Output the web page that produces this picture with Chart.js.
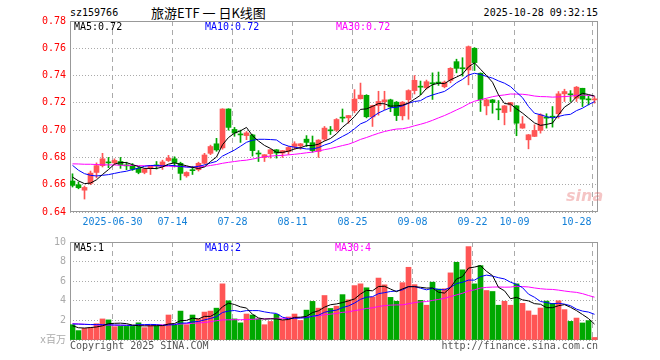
<!DOCTYPE html>
<html lang="zh-CN">
<head>
  <meta charset="UTF-8">
  <title>旅游ETF 一 日K线图</title>
  <script src="https://cdn.jsdelivr.net/npm/chart.js"></script>
  <style>
    body { margin: 0; width: 660px; height: 360px; background: #fff; position: relative; overflow: hidden; }
    canvas { position: absolute; left: 0; }
    .t { position: absolute; font: 10px 'DejaVu Sans Mono', monospace; line-height: 12px; white-space: pre; color: #000; }
  </style>
</head>
<body>
  <div class="t" style="left:70px;top:7px">sz159766</div>
  <div class="t" style="left:151px;top:4px;font:13px 'Noto Sans CJK SC',sans-serif;line-height:17px">旅游ETF 一 日K线图</div>
  <div class="t" style="right:62px;top:7px">2025-10-28 09:32:15</div>
  <canvas id="kline" width="660" height="232" style="top:0"></canvas>
  <canvas id="vol" width="660" height="120" style="top:232px"></canvas>
  <div class="t" style="left:566px;top:186px;font:italic bold 16px 'DejaVu Sans',sans-serif;color:rgba(225,90,90,0.35)">sina</div>
  <div class="t" style="left:70px;top:340px;color:#555">Copyright 2025 SINA.COM</div>
  <div class="t" style="right:62px;top:340px;color:#555">http://finance.sina.com.cn</div>

<script>
// trading days shown
const dates = [
  ...'19 20 23 24 25 26 27 30'.split(' ').map(d => '2025-06-' + d),
  ...'01 02 03 04 07 08 09 10 11 14 15 16 17 18 21 22 23 24 25 28 29 30 31'.split(' ').map(d => '2025-07-' + d),
  ...'01 04 05 06 07 08 11 12 13 14 15 18 19 20 21 22 25 26 27 28 29'.split(' ').map(d => '2025-08-' + d),
  ...'01 02 03 04 05 08 09 10 11 12 15 16 17 18 19 22 23 24 25 26 29 30'.split(' ').map(d => '2025-09-' + d),
  ...'09 10 13 14 15 16 17 20 21 22 23 24 27 28'.split(' ').map(d => '2025-10-' + d)
];
const tickDates = ['2025-06-30','2025-07-14','2025-07-28','2025-08-11','2025-08-25','2025-09-08','2025-09-22','2025-10-09','2025-10-28'];

const open = [
  0.6627,0.6600,0.6560,0.6610,0.6690,0.6740,0.6765,0.6760,0.6770,0.6745,
  0.6737,0.6720,0.6690,0.6720,0.6742,0.6735,0.6777,0.6790,0.6757,0.6665,
  0.6707,0.6710,0.6757,0.6830,0.6900,0.6870,0.7155,0.7005,0.6968,0.6960,
  0.6965,0.6830,0.6800,0.6827,0.6856,0.6832,0.6843,0.6880,0.6885,0.6934,
  0.6908,0.6844,0.6934,0.7000,0.7000,0.7090,0.7090,0.7142,0.7230,0.7255,
  0.7097,0.7180,0.7208,0.7222,0.7205,0.7105,0.7223,0.7290,0.7320,0.7310,
  0.7345,0.7350,0.7318,0.7364,0.7502,0.7455,0.7441,0.7600,0.7417,0.7178,
  0.7222,0.7152,0.7129,0.7185,0.7178,0.7015,0.6929,0.6954,0.6998,0.7092,
  0.7099,0.7120,0.7266,0.7263,0.7234,0.7307,0.7225,0.7222
];
const high = [
  0.6680,0.6620,0.6590,0.6700,0.6760,0.6830,0.6800,0.6790,0.6800,0.6765,
  0.6755,0.6730,0.6720,0.6742,0.6770,0.6780,0.6815,0.6805,0.6765,0.6695,
  0.6735,0.6765,0.6830,0.6890,0.6940,0.7157,0.7157,0.7020,0.7000,0.6990,
  0.6970,0.6850,0.6820,0.6860,0.6858,0.6852,0.6880,0.6915,0.6902,0.6960,
  0.6957,0.6930,0.7027,0.7027,0.7085,0.7155,0.7108,0.7297,0.7345,0.7260,
  0.7183,0.7285,0.7285,0.7227,0.7210,0.7210,0.7296,0.7400,0.7360,0.7367,
  0.7420,0.7426,0.7360,0.7458,0.7520,0.7531,0.7617,0.7605,0.7420,0.7227,
  0.7225,0.7217,0.7180,0.7204,0.7180,0.7100,0.6968,0.7039,0.7120,0.7120,
  0.7173,0.7283,0.7300,0.7290,0.7320,0.7307,0.7251,0.7246
];
const low = [
  0.6583,0.6570,0.6495,0.6600,0.6650,0.6730,0.6725,0.6746,0.6720,0.6710,
  0.6705,0.6680,0.6680,0.6675,0.6715,0.6712,0.6770,0.6730,0.6635,0.6655,
  0.6675,0.6700,0.6750,0.6820,0.6845,0.6860,0.7000,0.6955,0.6910,0.6930,
  0.6810,0.6770,0.6770,0.6795,0.6795,0.6800,0.6822,0.6860,0.6860,0.6880,
  0.6838,0.6800,0.6924,0.6968,0.6990,0.7060,0.7050,0.7127,0.7228,0.7090,
  0.7027,0.7110,0.7150,0.7135,0.7070,0.7075,0.7080,0.7265,0.7260,0.7300,
  0.7225,0.7328,0.7310,0.7347,0.7420,0.7396,0.7332,0.7437,0.7137,0.7112,
  0.7124,0.7076,0.7039,0.7137,0.6959,0.7013,0.6863,0.6952,0.6978,0.7015,
  0.7022,0.7088,0.7210,0.7210,0.7210,0.7173,0.7185,0.7198
];
const close = [
  0.6595,0.6578,0.6580,0.6685,0.6740,0.6790,0.6760,0.6778,0.6745,0.6738,
  0.6713,0.6690,0.6715,0.6740,0.6738,0.6767,0.6795,0.6762,0.6683,0.6690,
  0.6703,0.6757,0.6818,0.6880,0.6855,0.7155,0.7020,0.6980,0.6965,0.6980,
  0.6850,0.6825,0.6820,0.6856,0.6832,0.6850,0.6873,0.6900,0.6900,0.6910,
  0.6850,0.6927,0.7015,0.6995,0.7078,0.7088,0.7107,0.7228,0.7257,0.7098,
  0.7180,0.7210,0.7222,0.7170,0.7107,0.7205,0.7290,0.7365,0.7315,0.7355,
  0.7340,0.7345,0.7352,0.7453,0.7453,0.7450,0.7612,0.7495,0.7222,0.7222,
  0.7202,0.7149,0.7178,0.7202,0.7051,0.7046,0.6966,0.6998,0.7112,0.7088,
  0.7095,0.7266,0.7283,0.7259,0.7315,0.7227,0.7222,0.7227
];
const ma5 = [
  0.6656,0.6628,0.6608,0.6612,0.6636,0.6675,0.6711,0.6751,0.6763,0.6762,
  0.6747,0.6733,0.6720,0.6719,0.6719,0.6730,0.6751,0.6760,0.6749,0.6739,
  0.6727,0.6719,0.6730,0.6770,0.6803,0.6893,0.6946,0.6978,0.6995,0.7020,
  0.6959,0.6920,0.6888,0.6866,0.6837,0.6837,0.6846,0.6862,0.6871,0.6887,
  0.6887,0.6897,0.6920,0.6939,0.6973,0.7021,0.7057,0.7099,0.7152,0.7156,
  0.7174,0.7195,0.7193,0.7176,0.7178,0.7183,0.7199,0.7227,0.7256,0.7306,
  0.7333,0.7344,0.7341,0.7369,0.7389,0.7411,0.7464,0.7493,0.7446,0.7400,
  0.7351,0.7258,0.7195,0.7191,0.7156,0.7125,0.7089,0.7053,0.7035,0.7042,
  0.7052,0.7112,0.7169,0.7198,0.7244,0.7270,0.7261,0.7250
];
const ma10 = [
  0.6742,0.6706,0.6681,0.6669,0.6664,0.6669,0.6674,0.6683,0.6692,0.6699,
  0.6711,0.6722,0.6735,0.6741,0.6741,0.6738,0.6742,0.6740,0.6734,0.6729,
  0.6728,0.6735,0.6745,0.6759,0.6771,0.6810,0.6832,0.6854,0.6882,0.6911,
  0.6926,0.6933,0.6933,0.6931,0.6928,0.6898,0.6883,0.6875,0.6869,0.6862,
  0.6862,0.6872,0.6891,0.6905,0.6930,0.6954,0.6977,0.7010,0.7046,0.7064,
  0.7097,0.7126,0.7146,0.7164,0.7167,0.7178,0.7197,0.7210,0.7216,0.7242,
  0.7258,0.7271,0.7284,0.7313,0.7347,0.7372,0.7404,0.7417,0.7408,0.7394,
  0.7381,0.7361,0.7344,0.7319,0.7278,0.7238,0.7173,0.7124,0.7113,0.7099,
  0.7089,0.7100,0.7111,0.7116,0.7143,0.7161,0.7187,0.7209
];
const ma30 = [
  0.6753,0.6752,0.6750,0.6750,0.6748,0.6746,0.6745,0.6745,0.6743,0.6742,
  0.6742,0.6740,0.6739,0.6739,0.6737,0.6736,0.6736,0.6734,0.6733,0.6732,
  0.6730,0.6730,0.6734,0.6741,0.6748,0.6757,0.6764,0.6770,0.6776,0.6780,
  0.6788,0.6797,0.6805,0.6810,0.6813,0.6815,0.6819,0.6823,0.6828,0.6834,
  0.6839,0.6847,0.6857,0.6865,0.6876,0.6887,0.6897,0.6913,0.6932,0.6946,
  0.6962,0.6977,0.6990,0.7000,0.7008,0.7010,0.7019,0.7032,0.7043,0.7056,
  0.7072,0.7090,0.7107,0.7127,0.7148,0.7168,0.7193,0.7212,0.7223,0.7234,
  0.7245,0.7253,0.7258,0.7265,0.7264,0.7263,0.7258,0.7250,0.7246,0.7245,
  0.7242,0.7244,0.7246,0.7249,0.7256,0.7257,0.7255,0.7250
];
// volume, millions
const volume = [
  1.56,0.96,1.19,1.29,1.66,2.15,2.05,1.36,1.39,1.39,
  1.39,1.75,1.26,1.46,1.46,1.42,2.55,1.52,2.95,1.56,
  2.55,2.15,2.85,2.95,3.25,5.73,4.00,2.15,1.75,2.65,
  2.55,2.15,1.56,1.89,2.62,2.02,2.35,2.65,1.99,3.05,
  3.94,3.25,4.54,3.22,3.45,4.63,4.10,5.55,5.73,5.33,
  4.38,6.32,5.63,4.35,3.95,5.85,7.42,5.65,4.05,3.55,
  5.90,5.20,5.23,6.85,7.93,7.16,9.53,5.73,7.59,5.05,
  4.95,3.55,3.95,3.55,5.73,3.74,2.97,2.54,3.26,3.97,
  3.74,4.00,3.10,1.90,2.24,1.74,1.98,0.26
];
const volMa5 = [
  1.46,1.25,1.22,1.27,1.33,1.45,1.67,1.70,1.72,1.67,
  1.52,1.46,1.44,1.45,1.46,1.47,1.63,1.68,1.98,2.00,
  2.23,2.15,2.41,2.41,2.75,3.39,3.76,3.62,3.38,3.26,
  2.62,2.25,2.13,2.16,2.15,2.05,2.09,2.31,2.33,2.41,
  2.80,2.98,3.35,3.60,3.68,3.82,3.99,4.19,4.69,5.07,
  5.02,5.46,5.48,5.20,4.93,5.22,5.44,5.44,5.38,5.30,
  5.31,4.87,4.79,5.35,6.22,6.47,7.34,7.44,7.59,7.01,
  6.57,5.37,5.02,4.21,4.35,4.10,3.99,3.71,3.65,3.30,
  3.30,3.50,3.61,3.34,3.00,2.60,2.19,1.62
];
const volMa10 = [
  1.63,1.62,1.60,1.58,1.57,1.56,1.55,1.53,1.52,1.50,
  1.48,1.56,1.57,1.59,1.57,1.49,1.54,1.56,1.72,1.73,
  1.85,1.89,2.05,2.20,2.38,2.81,2.95,3.01,2.89,3.00,
  3.00,3.00,2.87,2.77,2.71,2.33,2.17,2.22,2.24,2.28,
  2.42,2.53,2.83,2.96,3.05,3.31,3.48,3.77,4.15,4.37,
  4.42,4.73,4.83,4.95,5.00,5.12,5.45,5.46,5.29,5.12,
  5.27,5.16,5.12,5.37,5.76,5.89,6.11,6.11,6.47,6.62,
  6.52,6.36,6.23,5.90,5.68,5.34,4.68,4.36,3.93,3.82,
  3.70,3.75,3.66,3.50,3.15,2.95,2.85,2.62
];
const volMa30 = [
  1.68,1.64,1.60,1.57,1.55,1.53,1.52,1.51,1.50,1.50,
  1.50,1.50,1.51,1.52,1.53,1.55,1.57,1.60,1.63,1.66,
  1.70,1.74,1.79,1.87,1.97,2.05,2.06,2.07,2.07,2.08,
  2.11,2.15,2.16,2.18,2.22,2.21,2.22,2.26,2.28,2.34,
  2.42,2.47,2.58,2.64,2.71,2.82,2.87,3.00,3.09,3.22,
  3.28,3.42,3.51,3.56,3.58,3.59,3.70,3.82,3.89,3.92,
  4.04,4.14,4.26,4.43,4.60,4.77,5.01,5.12,5.30,5.37,
  5.40,5.41,5.39,5.40,5.48,5.45,5.41,5.31,5.23,5.18,
  5.16,5.09,5.00,4.92,4.86,4.73,4.54,4.37
];

const RED = '#ff5555', GREEN = '#00a800';
const MONO = "'DejaVu Sans Mono', 'Noto Sans CJK SC', monospace";
const colors = close.map((c, i) => c >= open[i] ? RED : GREEN);
const idx = dates.map((d, i) => i);
const pts = arr => arr.map((v, i) => ({ x: i, y: v }));
const trunc = (v, d) => (Math.floor(v * Math.pow(10, d) + 1e-9) / Math.pow(10, d)).toFixed(d);
const lastOf = a => a[a.length - 1];

// date gridlines sit 2px left of the candle; last label is pulled inside the frame
const xTicks = tickDates.map((d, k) => ({ value: dates.indexOf(d) - 1 / 3, label: k === 0 ? d : d.slice(5), grid: true }));
const lastTick = xTicks.pop();
xTicks.push({ value: dates.length - 4, label: lastTick.label, grid: false });
xTicks.push({ value: lastTick.value, label: '', grid: true });

function xScale(showLabels, h) {
  return {
    type: 'linear', offset: false,
    min: -2.5 / 6, max: dates.length - 1 + 3.5 / 6,
    afterBuildTicks: s => { s.ticks = xTicks.map(t => ({ value: t.value })); },
    afterFit: s => { s.height = h; },
    ticks: {
      display: showLabels, autoSkip: false, maxRotation: 0, padding: 4,
      color: '#1480d8', font: { family: MONO, size: 10 },
      callback: (v, i) => xTicks[i].label
    },
    grid: { offset: false, drawTicks: false, color: c => (xTicks[c.index] && xTicks[c.index].grid) ? '#aaaaaa' : 'rgba(0,0,0,0)' },
    border: { display: false, dash: [5, 4] }
  };
}

const framePlugin = {
  id: 'frame',
  beforeDatasetsDraw(chart) {
    const a = chart.chartArea, ctx = chart.ctx;
    ctx.save();
    ctx.strokeStyle = '#999999';
    ctx.lineWidth = 1;
    ctx.strokeRect(a.left + 0.5, a.top + 0.5, a.right - a.left - 1, a.bottom - a.top - 1);
    ctx.restore();
  }
};
const maText = {
  id: 'maText',
  afterDraw(chart, args, opts) {
    const a = chart.chartArea, ctx = chart.ctx;
    ctx.save();
    ctx.font = '10px ' + MONO;
    ctx.textBaseline = 'middle';
    opts.items.forEach(it => {
      ctx.fillStyle = it.color;
      ctx.fillText(it.text, a.left + it.dx, a.top + 6);
    });
    ctx.restore();
  }
};

const line = (data, color) => ({ type: 'line', data: pts(data), borderColor: color, borderWidth: 1, pointRadius: 0, order: 0 });

new Chart(document.getElementById('kline'), {
  type: 'bar',
  data: {
    datasets: [
      line(ma5, '#000000'),
      line(ma10, '#0000ff'),
      line(ma30, '#ff00ff'),
      { data: idx.map(i => ({ x: i, y: [low[i], high[i]] })), backgroundColor: colors, barThickness: 1, grouped: false, order: 2 },
      { data: idx.map(i => ({ x: i, y: [open[i], close[i]] })), backgroundColor: colors, barThickness: 5, minBarLength: 1, grouped: false, order: 1 }
    ]
  },
  options: {
    responsive: false, animation: false, devicePixelRatio: 1,
    layout: { padding: { left: 0, right: 62, top: 21, bottom: 0 } },
    plugins: {
      legend: { display: false }, tooltip: { enabled: false },
      maText: { items: [
        { text: 'MA5:' + trunc(lastOf(ma5), 2), color: '#000000', dx: 4 },
        { text: 'MA10:' + trunc(lastOf(ma10), 2), color: '#0000ff', dx: 135 },
        { text: 'MA30:' + trunc(lastOf(ma30), 2), color: '#ff00ff', dx: 266 }
      ] }
    },
    scales: {
      x: xScale(true, 20),
      y: {
        min: 0.64, max: 0.78,
        afterFit: s => { s.width = 70; },
        ticks: { stepSize: 0.02, padding: 4, color: '#ff0000', font: { family: MONO, size: 10 }, callback: v => v.toFixed(2) },
        grid: { drawTicks: false, color: '#aaaaaa' },
        border: { display: false, dash: [1, 2] }
      }
    }
  },
  plugins: [framePlugin, maText]
});

new Chart(document.getElementById('vol'), {
  type: 'bar',
  data: {
    datasets: [
      line(volMa5, '#000000'),
      line(volMa10, '#0000ff'),
      line(volMa30, '#ff00ff'),
      { data: pts(volume), backgroundColor: colors, barThickness: 5, grouped: false, order: 1 }
    ]
  },
  options: {
    responsive: false, animation: false, devicePixelRatio: 1,
    layout: { padding: { left: 0, right: 62, top: 8, bottom: 0 } },
    plugins: {
      legend: { display: false }, tooltip: { enabled: false },
      maText: { items: [
        { text: 'MA5:' + trunc(lastOf(volMa5), 0), color: '#000000', dx: 4 },
        { text: 'MA10:' + trunc(lastOf(volMa10), 0), color: '#0000ff', dx: 135 },
        { text: 'MA30:' + trunc(lastOf(volMa30), 0), color: '#ff00ff', dx: 265 }
      ] }
    },
    scales: {
      x: xScale(false, 12),
      y: {
        min: 0, max: 10,
        afterFit: s => { s.width = 70; },
        ticks: { stepSize: 2, padding: 4, color: '#aaaaaa', font: { family: MONO, size: 10 }, callback: v => v === 0 ? 'x百万' : v },
        grid: { drawTicks: false, color: '#aaaaaa' },
        border: { display: false, dash: [1, 2] }
      }
    }
  },
  plugins: [framePlugin, maText]
});
</script>
</body>
</html>
